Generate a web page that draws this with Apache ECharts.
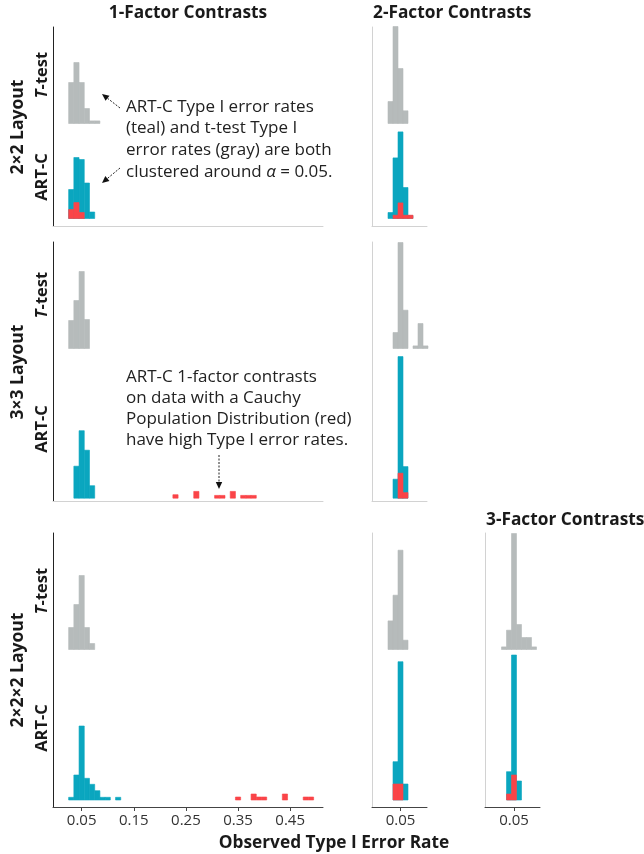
<!DOCTYPE html>
<html>
<head>
<meta charset="utf-8">
<script src="https://cdn.jsdelivr.net/npm/echarts@6.0.0/dist/echarts.min.js"></script>
<style>
html,body{margin:0;padding:0;background:#fff;}
#chart{width:644px;height:854px;}
</style>
</head>
<body>
<div id="chart"></div>
<script>
// ---------------- DATA (bin centre, relative frequency) ----------------
const BIN = 0.01;
const xTicksWide = [0.05, 0.15, 0.25, 0.35, 0.45];
const xTicksNarrow = [0.05];
const columnTitles = ['1-Factor Contrasts', '2-Factor Contrasts', '3-Factor Contrasts'];
const rowTitles = ['2×2 Layout', '3×3 Layout', '2×2×2 Layout'];
const methodLabels = ['T-test', 'ART-C'];

// 2x2 layout, 1-factor contrasts
const tt_2x2_f1 = [[0.03,41],[0.04,61],[0.05,41],[0.06,15],[0.07,2.6],[0.08,2.6]];
const art_2x2_f1 = [[0.03,29],[0.04,61],[0.05,59],[0.06,35.5],[0.07,6.5]];
const cauchy_2x2_f1 = [[0.03,9],[0.04,16],[0.05,6]];
// 2x2 layout, 2-factor contrasts
const tt_2x2_f2 = [[0.03,22],[0.04,97],[0.05,55],[0.06,12.7]];
const art_2x2_f2 = [[0.03,6],[0.04,60.6],[0.05,86.6],[0.06,31],[0.07,3]];
const cauchy_2x2_f2 = [[0.04,3.3],[0.05,15.6],[0.06,3.3],[0.07,3.3]];
// 3x3 layout, 1-factor contrasts
const tt_3x3_f1 = [[0.03,28],[0.04,48],[0.05,77],[0.06,29]];
const art_3x3_f1 = [[0.04,32],[0.05,67.5],[0.06,48],[0.07,12.5]];
const cauchy_3x3_f1 = [[0.23,3.5],[0.27,6.8],[0.31,2.8],[0.32,2.8],[0.34,6.8],[0.36,2.8],[0.37,2.8],[0.38,2.8]];
// 3x3 layout, 2-factor contrasts
const tt_3x3_f2 = [[0.04,16],[0.05,106],[0.06,38.3],[0.08,2.6],[0.09,25],[0.10,2.6]];
const art_3x3_f2 = [[0.04,19],[0.05,141.6],[0.06,31.6]];
const cauchy_3x3_f2 = [[0.05,25],[0.06,5.6]];
// 2x2x2 layout, 1-factor contrasts
const tt_2x2x2_f1 = [[0.03,22],[0.04,45],[0.05,74],[0.06,22],[0.07,6]];
const art_2x2x2_f1 = [[0.03,2.7],[0.04,25],[0.05,74],[0.06,21.7],[0.07,15.7],[0.08,9.3],[0.09,2.7],[0.10,2.7],[0.12,2.7]];
const cauchy_2x2x2_f1 = [[0.35,3],[0.38,6],[0.39,3],[0.40,3],[0.44,6],[0.48,3],[0.49,3]];
// 2x2x2 layout, 2-factor contrasts
const tt_2x2x2_f2 = [[0.03,28.6],[0.04,54.3],[0.05,99.3],[0.06,9.3]];
const art_2x2x2_f2 = [[0.04,38.3],[0.05,138.3],[0.06,16]];
const cauchy_2x2x2_f2 = [[0.04,16],[0.05,16]];
// 2x2x2 layout, 3-factor contrasts
const tt_2x2x2_f3 = [[0.03,2.6],[0.04,19.3],[0.05,116],[0.06,25],[0.07,12],[0.08,12],[0.09,2.6]];
const art_2x2x2_f3 = [[0.04,28.3],[0.05,145],[0.06,19]];
const cauchy_2x2x2_f3 = [[0.04,6],[0.05,25]];

// ---------------- LAYOUT / STYLE ----------------
const C_GRAY = '#b6bbbb', C_TEAL = '#0aa6bf', C_RED = '#fa4448';
const FONT = '"Open Sans", "Noto Sans", sans-serif';
const TXT = '#1a1a1a';

// rows: top, height (units = y-axis max), ART-C baseline, T-test baseline
const rows = [
  {top: 27,  h: 199, art: 7.5, tt: 102.5},
  {top: 242, h: 259, art: 2.8, tt: 152.5},
  {top: 533, h: 274, art: 7,   tt: 157.5}
];
const cols = {
  f1: {left: 53,  width: 270, min: -0.005, max: 0.513, wide: true},
  f2: {left: 372, width: 55,  min: -0.007, max: 0.103, wide: false},
  f3: {left: 485, width: 55,  min: -0.008, max: 0.102, wide: false}
};
const panels = [
  {row: 0, col: 'f1', tt: tt_2x2_f1, art: art_2x2_f1, red: cauchy_2x2_f1},
  {row: 0, col: 'f2', tt: tt_2x2_f2, art: art_2x2_f2, red: cauchy_2x2_f2},
  {row: 1, col: 'f1', tt: tt_3x3_f1, art: art_3x3_f1, red: cauchy_3x3_f1},
  {row: 1, col: 'f2', tt: tt_3x3_f2, art: art_3x3_f2, red: cauchy_3x3_f2},
  {row: 2, col: 'f1', tt: tt_2x2x2_f1, art: art_2x2x2_f1, red: cauchy_2x2x2_f1},
  {row: 2, col: 'f2', tt: tt_2x2x2_f2, art: art_2x2x2_f2, red: cauchy_2x2x2_f2},
  {row: 2, col: 'f3', tt: tt_2x2x2_f3, art: art_2x2x2_f3, red: cauchy_2x2x2_f3}
];

function histRender(base, color) {
  return function (params, api) {
    const c = api.value(0), h = api.value(1);
    const p0 = api.coord([c - BIN / 2, base]);
    const p1 = api.coord([c + BIN / 2, base + h]);
    return {
      type: 'rect',
      shape: {x: p0[0], y: p1[1], width: p1[0] - p0[0], height: p0[1] - p1[1]},
      style: {fill: color, stroke: color, lineWidth: 0.6}
    };
  };
}

const grid = [], xAxis = [], yAxis = [], series = [];
panels.forEach((p, i) => {
  const r = rows[p.row], c = cols[p.col];
  const bottomRow = p.row === 2;
  grid.push({left: c.left, top: r.top, width: c.width, height: r.h,
             containLabel: false, outerBoundsMode: 'none'});
  xAxis.push({
    type: 'value', gridIndex: i, min: c.min, max: c.max,
    splitLine: {show: false},
    axisLine: {show: true, onZero: false,
               lineStyle: {color: bottomRow ? '#444' : '#d2d2d2', width: 1}},
    axisTick: {show: bottomRow, length: 4, lineStyle: {color: '#444'},
               customValues: c.wide ? xTicksWide : xTicksNarrow},
    axisLabel: {show: bottomRow, customValues: c.wide ? xTicksWide : xTicksNarrow,
                formatter: v => v.toFixed(2), color: '#333', fontSize: 15,
                fontFamily: FONT, margin: 6}
  });
  yAxis.push({
    type: 'value', gridIndex: i, min: 0, max: r.h,
    splitLine: {show: false},
    axisLine: {show: true, onZero: false,
               lineStyle: {color: c.wide ? '#222' : '#d2d2d2', width: 1}},
    axisTick: {show: false}, axisLabel: {show: false}
  });
  [[p.tt, r.tt, C_GRAY], [p.art, r.art, C_TEAL], [p.red, r.art, C_RED]].forEach(([d, base, col]) => {
    series.push({
      type: 'custom', xAxisIndex: i, yAxisIndex: i, data: d,
      renderItem: histRender(base, col), silent: true
    });
  });
});

// ---------------- TEXT & ANNOTATIONS ----------------
function arrow(x1, y1, x2, y2) {
  const ang = Math.atan2(y2 - y1, x2 - x1), L = 7, W = 3.2;
  const bx = x2 - L * Math.cos(ang), by = y2 - L * Math.sin(ang);
  const nx = -Math.sin(ang) * W, ny = Math.cos(ang) * W;
  return [
    {type: 'line', shape: {x1: x1, y1: y1, x2: bx, y2: by},
     style: {stroke: '#222', lineWidth: 1, lineDash: [2, 1.5]}},
    {type: 'polygon', shape: {points: [[x2, y2], [bx + nx, by + ny], [bx - nx, by - ny]]},
     style: {fill: '#111'}}
  ];
}
function vtext(x, y, text, size, rich) {
  return {type: 'text', x: x, y: y, rotation: Math.PI / 2,
    style: {text: text, fontFamily: FONT, fontSize: size, fontWeight: 'bold', fill: TXT,
            align: 'center', verticalAlign: 'middle', rich: rich || {}}};
}
const ML = 16.5;
const richT = {i: {fontStyle: 'italic', fontWeight: 'bold', fontSize: ML, fontFamily: FONT, fill: TXT},
               n: {fontWeight: 'bold', fontSize: ML, fontFamily: FONT, fill: TXT}};
const ttLabel = '{i|T}{n|' + methodLabels[0].slice(1) + '}';
const TS = 17.3, RS = 17.5, AS = 17;

const graphic = [
  {type: 'text', x: 188, y: 13, style: {text: columnTitles[0], fontFamily: FONT, fontSize: TS, fontWeight: 'bold', fill: TXT, align: 'center', verticalAlign: 'middle'}},
  {type: 'text', x: 373, y: 13, style: {text: columnTitles[1], fontFamily: FONT, fontSize: TS, fontWeight: 'bold', fill: TXT, align: 'left', verticalAlign: 'middle'}},
  {type: 'text', x: 486, y: 520, style: {text: columnTitles[2], fontFamily: FONT, fontSize: TS, fontWeight: 'bold', fill: TXT, align: 'left', verticalAlign: 'middle'}},
  vtext(18, 127, rowTitles[0], RS), vtext(18, 372, rowTitles[1], RS), vtext(18, 670, rowTitles[2], RS),
  vtext(42, 75, ttLabel, ML, richT), vtext(42, 177, methodLabels[1], ML),
  vtext(42, 295, ttLabel, ML, richT), vtext(42, 429, methodLabels[1], ML),
  vtext(42, 591, ttLabel, ML, richT), vtext(42, 728, methodLabels[1], ML),
  {type: 'text', x: 334, y: 843, style: {text: 'Observed Type I Error Rate', fontFamily: FONT, fontSize: TS, fontWeight: 'bold', fill: TXT, align: 'center', verticalAlign: 'middle'}},
  {type: 'text', x: 126, y: 139.5, style: {
    text: 'ART-C Type I error rates\n(teal) and t-test Type I\nerror rates (gray) are both\nclustered around {a|α} = 0.05.',
    fontFamily: FONT, fontSize: AS, lineHeight: 21.7, fill: '#222', align: 'left', verticalAlign: 'middle',
    rich: {a: {fontStyle: 'italic', fontFamily: FONT, fontSize: AS, fill: '#222', lineHeight: 21.7}}}},
  {type: 'text', x: 126, y: 408.5, style: {
    text: 'ART-C 1-factor contrasts\non data with a Cauchy\nPopulation Distribution (red)\nhave high Type I error rates.',
    fontFamily: FONT, fontSize: AS, lineHeight: 21.2, fill: '#222', align: 'left', verticalAlign: 'middle'}},
  ...arrow(120, 108, 102, 94),
  ...arrow(120, 168, 102, 183),
  ...arrow(219, 455, 219, 489)
];

const chart = echarts.init(document.getElementById('chart'), null, {renderer: 'canvas'});
chart.setOption({animation: false, backgroundColor: '#fff', grid, xAxis, yAxis, series, graphic});
</script>
</body>
</html>
